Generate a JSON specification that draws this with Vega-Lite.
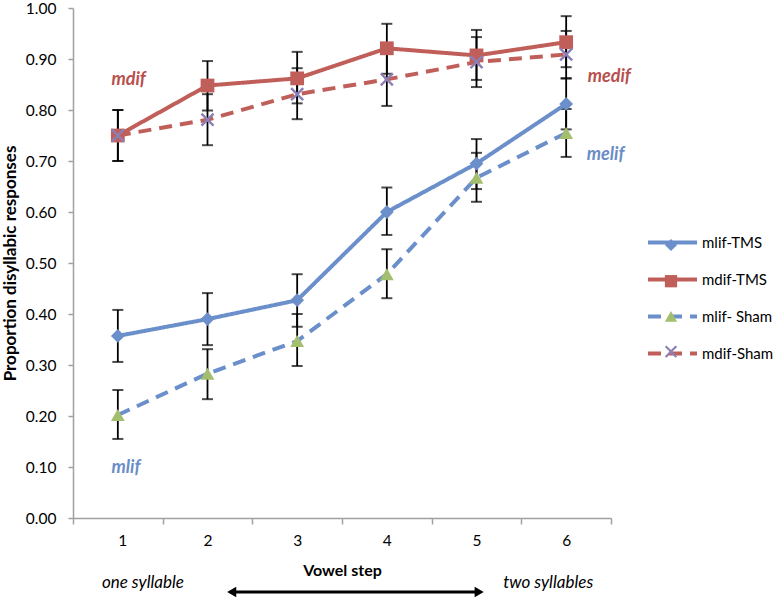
{
  "$schema": "https://vega.github.io/schema/vega-lite/v6.json",
  "width": 538,
  "height": 510,
  "autosize": {"type": "none"},
  "padding": {"left": 73, "top": 8, "right": 169, "bottom": 87},
  "background": "white",
  "config": {
    "view": {"stroke": null},
    "font": "Lato",
    "axis": {"labelFont": "Lato", "titleFont": "Lato", "labelColor": "#000", "titleColor": "#000", "domainColor": "#a0a0a0", "tickColor": "#a0a0a0", "domainWidth": 1.5, "tickWidth": 1.5, "grid": false}
  },
  "datasets": {
    "main": [
      {"step": 1, "series": "mlif-TMS", "value": 0.357, "lo": 0.306, "hi": 0.408},
      {"step": 2, "series": "mlif-TMS", "value": 0.390, "lo": 0.339, "hi": 0.441},
      {"step": 3, "series": "mlif-TMS", "value": 0.427, "lo": 0.375, "hi": 0.478},
      {"step": 4, "series": "mlif-TMS", "value": 0.600, "lo": 0.555, "hi": 0.648},
      {"step": 5, "series": "mlif-TMS", "value": 0.695, "lo": 0.645, "hi": 0.743},
      {"step": 6, "series": "mlif-TMS", "value": 0.812, "lo": 0.762, "hi": 0.862},
      {"step": 1, "series": "mdif-TMS", "value": 0.750, "lo": 0.700, "hi": 0.800},
      {"step": 2, "series": "mdif-TMS", "value": 0.848, "lo": 0.799, "hi": 0.896},
      {"step": 3, "series": "mdif-TMS", "value": 0.862, "lo": 0.813, "hi": 0.914},
      {"step": 4, "series": "mdif-TMS", "value": 0.921, "lo": 0.871, "hi": 0.969},
      {"step": 5, "series": "mdif-TMS", "value": 0.907, "lo": 0.859, "hi": 0.957},
      {"step": 6, "series": "mdif-TMS", "value": 0.933, "lo": 0.884, "hi": 0.984},
      {"step": 1, "series": "mlif- Sham", "value": 0.202, "lo": 0.155, "hi": 0.251},
      {"step": 2, "series": "mlif- Sham", "value": 0.283, "lo": 0.233, "hi": 0.331},
      {"step": 3, "series": "mlif- Sham", "value": 0.347, "lo": 0.298, "hi": 0.400},
      {"step": 4, "series": "mlif- Sham", "value": 0.478, "lo": 0.431, "hi": 0.527},
      {"step": 5, "series": "mlif- Sham", "value": 0.667, "lo": 0.620, "hi": 0.716},
      {"step": 6, "series": "mlif- Sham", "value": 0.755, "lo": 0.708, "hi": 0.802},
      {"step": 1, "series": "mdif-Sham", "value": 0.750, "lo": 0.700, "hi": 0.800},
      {"step": 2, "series": "mdif-Sham", "value": 0.781, "lo": 0.731, "hi": 0.831},
      {"step": 3, "series": "mdif-Sham", "value": 0.831, "lo": 0.782, "hi": 0.882},
      {"step": 4, "series": "mdif-Sham", "value": 0.860, "lo": 0.808, "hi": 0.910},
      {"step": 5, "series": "mdif-Sham", "value": 0.894, "lo": 0.845, "hi": 0.943},
      {"step": 6, "series": "mdif-Sham", "value": 0.909, "lo": 0.862, "hi": 0.955}
    ],
    "notes": [
      {"label": "mdif", "x": 1.12, "y": 0.859, "kind": "red"},
      {"label": "medif", "x": 6.48, "y": 0.865, "kind": "red"},
      {"label": "melif", "x": 6.44, "y": 0.712, "kind": "blue"},
      {"label": "mlif", "x": 1.09, "y": 0.098, "kind": "blue"},
      {"label": "one syllable", "x": 1.28, "y": -0.127, "kind": "black"},
      {"label": "two syllables", "x": 5.80, "y": -0.127, "kind": "black"}
    ],
    "arrow": [
      {"x": 2.3, "x2": 5.0, "y": -0.145}
    ],
    "heads": [
      {"x": 2.27, "y": -0.145, "end": "left"},
      {"x": 5.03, "y": -0.145, "end": "right"}
    ]
  },
  "encoding": {
    "x": {"type": "quantitative"},
    "y": {"type": "quantitative"}
  },
  "layer": [
    {
      "data": {"name": "main"},
      "mark": {"type": "rule", "color": "#000", "strokeWidth": 1.8},
      "encoding": {
        "x": {"field": "step", "type": "quantitative", "scale": {"domain": [0.5, 6.5], "nice": false, "zero": false},
          "axis": {"values": [0.5, 1.5, 2.5, 3.5, 4.5, 5.5, 6.5], "labelExpr": "datum.value < 6 ? format(datum.value + 0.5, 'd') : ''", "labelOffset": 44.8, "labelFontSize": 15.5, "labelPadding": 9, "tickSize": 6, "title": "Vowel step", "titleFontSize": 16, "titleFontWeight": "bold", "titlePadding": 14}},
        "y": {"field": "lo", "type": "quantitative", "scale": {"domain": [0, 1], "nice": false},
          "axis": {"values": [0, 0.1, 0.2, 0.3, 0.4, 0.5, 0.6, 0.7, 0.8, 0.9, 1.0], "format": ".2f", "labelFontSize": 15.5, "labelPadding": 12, "tickSize": 5, "title": "Proportion disyllabic responses", "titleFontSize": 17, "titleFontWeight": "bold", "titlePadding": 6}},
        "y2": {"field": "hi"}
      }
    },
    {
      "data": {"name": "main"},
      "mark": {"type": "tick", "orient": "horizontal", "color": "#000", "size": 11, "thickness": 2},
      "encoding": {"x": {"field": "step", "type": "quantitative"}, "y": {"field": "lo", "type": "quantitative"}}
    },
    {
      "data": {"name": "main"},
      "mark": {"type": "tick", "orient": "horizontal", "color": "#000", "size": 11, "thickness": 2},
      "encoding": {"x": {"field": "step", "type": "quantitative"}, "y": {"field": "hi", "type": "quantitative"}}
    },
    {
      "data": {"name": "main"},
      "mark": {"type": "line", "strokeWidth": 4},
      "encoding": {
        "x": {"field": "step", "type": "quantitative"},
        "y": {"field": "value", "type": "quantitative"},
        "stroke": {"field": "series", "type": "nominal",
          "scale": {"domain": ["mlif-TMS", "mdif-TMS", "mlif- Sham", "mdif-Sham"], "range": ["#6b8fca", "#c05f5a", "#6b8fca", "#c05f5a"]},
          "legend": {"orient": "none", "legendX": 573, "legendY": 208, "title": null, "symbolType": "stroke", "symbolSize": 2400, "symbolStrokeWidth": 4, "labelFontSize": 15, "labelFont": "Lato", "labelColor": "#000", "labelOffset": 3, "padding": 0, "rowPadding": 2}},
        "strokeDash": {"field": "series", "type": "nominal",
          "scale": {"domain": ["mlif-TMS", "mdif-TMS", "mlif- Sham", "mdif-Sham"], "range": [[1, 0], [1, 0], [13, 8], [13, 8]]}}
      }
    },
    {
      "data": {"name": "main"},
      "mark": {"type": "point", "filled": true, "size": 190, "opacity": 1, "strokeWidth": 0},
      "encoding": {
        "x": {"field": "step", "type": "quantitative"},
        "y": {"field": "value", "type": "quantitative"},
        "fill": {"field": "series", "type": "nominal", "sort": null,
          "scale": {"range": ["#6b8fca", "#c05f5a", "#a3be6c", "#8c7fb6"]},
          "legend": {"orient": "none", "legendX": 591, "legendY": 230, "title": null, "symbolSize": 150, "labelExpr": "''", "labelOpacity": 0, "labelFontSize": 1, "labelOffset": 0, "padding": 0, "rowPadding": 16.2}},
        "shape": {"field": "series", "type": "nominal", "sort": null,
          "scale": {"range": ["diamond", "square", "triangle-up", "M-1,-0.75L-0.75,-1L0,-0.25L0.75,-1L1,-0.75L0.25,0L1,0.75L0.75,1L0,0.25L-0.75,1L-1,0.75L-0.25,0Z"]}}
      }
    },
    {
      "data": {"name": "notes"},
      "transform": [{"filter": "datum.kind == 'red'"}],
      "mark": {"type": "text", "font": "Lato", "fontSize": 18, "fontWeight": "bold", "fontStyle": "italic", "color": "#b8504d", "align": "center", "baseline": "middle"},
      "encoding": {"x": {"field": "x", "type": "quantitative"}, "y": {"field": "y", "type": "quantitative"}, "text": {"field": "label"}}
    },
    {
      "data": {"name": "notes"},
      "transform": [{"filter": "datum.kind == 'blue'"}],
      "mark": {"type": "text", "font": "Lato", "fontSize": 18, "fontWeight": "bold", "fontStyle": "italic", "color": "#6a8cc8", "align": "center", "baseline": "middle"},
      "encoding": {"x": {"field": "x", "type": "quantitative"}, "y": {"field": "y", "type": "quantitative"}, "text": {"field": "label"}}
    },
    {
      "data": {"name": "notes"},
      "transform": [{"filter": "datum.kind == 'black'"}],
      "mark": {"type": "text", "font": "Lato", "fontSize": 17, "fontStyle": "italic", "color": "#000", "align": "center", "baseline": "middle"},
      "encoding": {"x": {"field": "x", "type": "quantitative"}, "y": {"field": "y", "type": "quantitative"}, "text": {"field": "label"}}
    },
    {
      "data": {"name": "arrow"},
      "mark": {"type": "rule", "color": "#000", "strokeWidth": 3},
      "encoding": {"x": {"field": "x", "type": "quantitative"}, "x2": {"field": "x2"}, "y": {"field": "y", "type": "quantitative"}}
    },
    {
      "data": {"name": "heads"},
      "transform": [{"filter": "datum.end == 'left'"}],
      "mark": {"type": "point", "shape": "triangle-left", "filled": true, "color": "#000", "size": 110, "opacity": 1},
      "encoding": {"x": {"field": "x", "type": "quantitative"}, "y": {"field": "y", "type": "quantitative"}}
    },
    {
      "data": {"name": "heads"},
      "transform": [{"filter": "datum.end == 'right'"}],
      "mark": {"type": "point", "shape": "triangle-right", "filled": true, "color": "#000", "size": 110, "opacity": 1},
      "encoding": {"x": {"field": "x", "type": "quantitative"}, "y": {"field": "y", "type": "quantitative"}}
    }
  ]
}
